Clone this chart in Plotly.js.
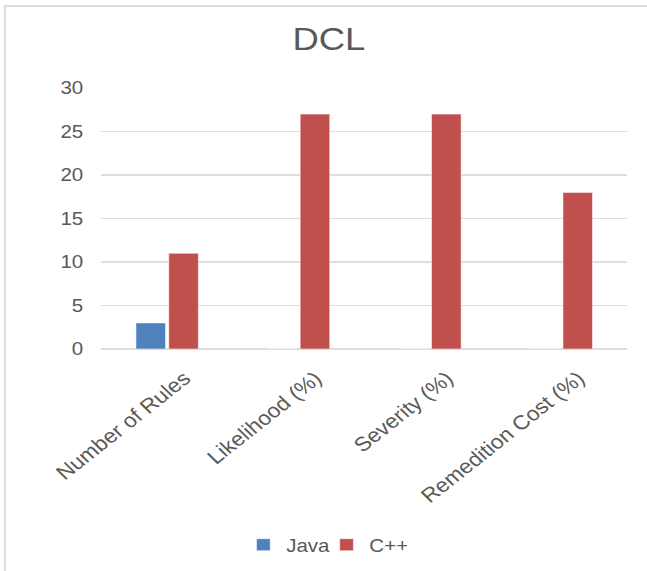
<!DOCTYPE html>
<html>
<head>
<meta charset="utf-8">
<script src="https://cdn.plot.ly/plotly-3.0.1.min.js"></script>
<style>
  html, body { margin: 0; padding: 0; background: #fff; overflow: hidden; }
  #wrap { position: relative; width: 647px; height: 571px; overflow: hidden; }
  #chart { position: absolute; left: 0; top: 0; width: 568px; height: 571px;
           transform: scaleX(1.14); transform-origin: 0 0; }
  #frame { position: absolute; left: 4px; top: 5px; width: 650px; height: 580px;
           border-left: 2px solid #dcdcdc; border-top: 2px solid #dcdcdc; pointer-events: none; }
</style>
</head>
<body>
<div id="wrap">
  <div id="chart"></div>
  <div id="frame"></div>
</div>
<script>
const categories = ["Number of Rules", "Likelihood (%)", "Severity (%)", "Remedition Cost (%)"];
const javaValues = [3, 0, 0, 0];
const cppValues = [11, 27, 27, 18];
const yTicks = [0, 5, 10, 15, 20, 25, 30];

const font = "Liberation Sans, Arial, sans-serif";
const textColor = "#595959";

const traces = [
  { type: "bar", name: "Java", x: categories, y: javaValues,
    marker: { color: "#4F81BD", line: { color: "#ffffff", width: 0.5 } }, hoverinfo: "skip" },
  { type: "bar", name: "C++", x: categories, y: cppValues,
    marker: { color: "#C0504D", line: { color: "#ffffff", width: 0.5 } }, hoverinfo: "skip" }
];

const layout = {
  width: 568, height: 571,
  paper_bgcolor: "rgba(0,0,0,0)", plot_bgcolor: "rgba(0,0,0,0)",
  margin: { l: 89, r: 18, t: 88, b: 222 },
  title: { text: "DCL", font: { family: font, size: 32, color: textColor },
           x: 0.508, xref: "container", xanchor: "center", y: 1 - 39/571, yanchor: "middle" },
  barmode: "group",
  bargap: 0.5,
  bargroupgap: 0.1,
  xaxis: {
    type: "category",
    tickangle: -42,
    tickfont: { family: font, size: 20, color: textColor },
    showgrid: false, zeroline: false, showline: false, ticks: "",
    ticklabelstandoff: 13,
    ticklabelshift: 15
  },
  yaxis: {
    range: [0, 30],
    tickvals: yTicks,
    ticktext: yTicks.map(String),
    tickfont: { family: font, size: 18, color: textColor },
    showgrid: true, gridcolor: "#dedede", gridwidth: 1.5,
    zeroline: true, zerolinecolor: "#dedede", zerolinewidth: 1.5,
    showline: false, ticks: "",
    ticklabelstandoff: 15
  },
  showlegend: true,
  legend: {
    orientation: "h",
    xref: "container", yref: "container",
    x: 0.5, xanchor: "center",
    y: 1 - 545/571, yanchor: "middle",
    font: { family: font, size: 18, color: textColor },
    itemwidth: 30,
    entrywidth: 28
  }
};

Plotly.newPlot("chart", traces, layout, { staticPlot: true, displayModeBar: false });
</script>
</body>
</html>
